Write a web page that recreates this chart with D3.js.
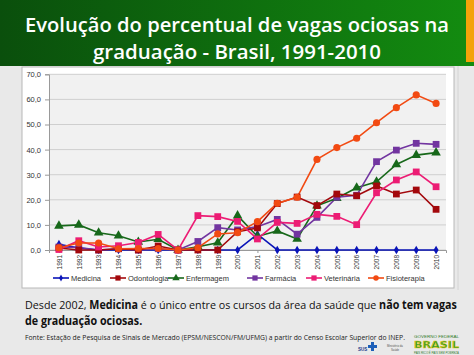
<!DOCTYPE html>
<html><head><meta charset="utf-8">
<script src="https://cdn.jsdelivr.net/npm/d3@7"></script>
<style>body{margin:0;background:#e9e9e9;}svg{display:block;}</style>
</head><body>
<svg id="c" width="474" height="355"></svg>
<script>
const years = ["1991","1992","1993","1994","1995","1996","1997","1998","1999","2000","2001","2002","2003","2004","2005","2006","2007","2008","2009","2010"];
const yTicks = [0,10,20,30,40,50,60,70];
const medicina     = [2.3,0.8,0,0,0,0,0,0,0,0,6.3,0,0,0,0,0,0,0,0,0];
const odontologia  = [0.8,0,0,0.5,0,1.6,0,0,0,7.3,8.8,18.5,21.1,17.7,22.3,21.6,25.5,22.3,23.9,16.2];
const enfermagem   = [9.6,10.0,6.9,5.7,3.2,4.3,0,1.3,2.9,13.7,5.4,7.6,4.4,17.6,20.6,24.8,27.2,34.1,37.8,38.8];
const farmacia     = [1.2,1.0,0,0.5,0,0.5,0,3.4,8.9,8.0,9.3,12.2,6.3,13.0,21.0,21.8,35.2,39.8,42.5,42.1];
const veterinaria  = [0.2,3.7,1.2,1.7,3.0,6.2,0,13.7,13.3,11.4,4.4,11.0,10.6,14.2,13.4,10.1,22.8,27.9,31.1,25.2];
const fisioterapia = [0.9,2.8,2.8,0.5,0.6,0.6,0,0.9,6.4,6.9,11.3,18.6,21.0,36.1,40.8,44.5,50.7,56.7,61.8,58.4];
const seriesNames = ["Medicina","Odontologia","Enfermagem","Farmácia","Veterinária","Fisioterapia"];
const seriesValues = [medicina,odontologia,enfermagem,farmacia,veterinaria,fisioterapia];
const colors = ["#0a14b8","#a3080c","#17681a","#7235a0","#ec1c74","#f24a12"];
const shapes = ["diamond","square","triangle","square","square","circle"];

const svg = d3.select("#c");
const defs = svg.append("defs");
const g1 = defs.append("linearGradient").attr("id","tg").attr("x1","0").attr("x2","1");
g1.append("stop").attr("offset","0").attr("stop-color","#0a4f0c");
g1.append("stop").attr("offset","1").attr("stop-color","#138c10");
svg.append("rect").attr("x",0).attr("y",0).attr("width",474).attr("height",66).attr("fill","url(#tg)");
svg.append("rect").attr("x",466).attr("y",0).attr("width",8).attr("height",62).attr("fill","#f3a30a");
svg.append("text").attr("x",237).attr("y",32).attr("text-anchor","middle").attr("fill","#fff")
  .attr("font-family","Open Sans").attr("font-weight",600).attr("font-size",20.5)
  .attr("textLength",424).attr("lengthAdjust","spacingAndGlyphs").text("Evolução do percentual de vagas ociosas na");
svg.append("text").attr("x",237).attr("y",59).attr("text-anchor","middle").attr("fill","#fff")
  .attr("font-family","Open Sans").attr("font-weight",600).attr("font-size",20.5)
  .attr("textLength",288).attr("lengthAdjust","spacingAndGlyphs").text("graduação - Brasil, 1991-2010");

svg.append("line").attr("x1",458).attr("x2",458).attr("y1",66).attr("y2",290).attr("stroke","#d4d4d4");
svg.append("rect").attr("x",22).attr("y",67).attr("width",432).attr("height",221).attr("fill","#fff").attr("stroke","#b8b8b8");

const pLeft=49, pRight=446, pTop=74.3, pBottom=250;
const x = d3.scalePoint().domain(years).range([pLeft,pRight]).padding(0.5);
const y = d3.scaleLinear().domain([0,70]).range([pBottom,pTop]);

svg.append("rect").attr("x",pLeft).attr("y",pTop).attr("width",pRight-pLeft).attr("height",pBottom-pTop).attr("fill","#f1f1f1");
svg.append("g").selectAll("line").data(yTicks).join("line")
  .attr("x1",pLeft).attr("x2",pRight).attr("y1",d=>y(d)).attr("y2",d=>y(d))
  .attr("stroke","#cfcfcf").attr("stroke-width",1);

const ya = svg.append("g").attr("transform",`translate(${pLeft},0)`)
  .call(d3.axisLeft(y).tickValues(yTicks).tickSize(4).tickFormat(d=>d.toFixed(1).replace(".",",")));
ya.select(".domain").attr("stroke","#999");
ya.selectAll(".tick line").attr("stroke","#999");
ya.selectAll("text").attr("font-family","Liberation Sans").attr("font-size",7.5).attr("fill","#333").attr("dx",-1);

const xa = svg.append("g").attr("transform",`translate(0,${pBottom})`)
  .call(d3.axisBottom(x).tickSize(3));
xa.select(".domain").attr("stroke","#999");
xa.selectAll(".tick line").attr("stroke","#999");
xa.selectAll("text").attr("font-family","Liberation Sans").attr("font-size",6.5).attr("fill","#333")
  .attr("transform","rotate(-90)").attr("text-anchor","end").attr("x",-5).attr("y",0).attr("dy","0.35em");

const symType = {diamond:d3.symbolDiamond,square:d3.symbolSquare,triangle:d3.symbolTriangle,circle:d3.symbolCircle};
const symSize = {diamond:22,square:46,triangle:40,circle:40};
const line = d3.line().x((d,i)=>x(years[i])).y(d=>y(d));

const order=[0,2,3,1,4,5];
order.forEach(k=>{
  svg.append("path").datum(seriesValues[k]).attr("d",line).attr("fill","none")
    .attr("stroke",colors[k]).attr("stroke-width",1.6);
});
order.forEach(k=>{
  svg.append("g").selectAll("path").data(seriesValues[k]).join("path")
    .attr("transform",(d,i)=>`translate(${x(years[i])},${y(d)})`)
    .attr("d",d3.symbol().type(symType[shapes[k]]).size(symSize[shapes[k]]))
    .attr("fill",colors[k]);
});

const legX=[53,110,168,247,306,368];
const legY=278;
seriesNames.forEach((n,k)=>{
  const g=svg.append("g");
  g.append("line").attr("x1",legX[k]).attr("x2",legX[k]+16).attr("y1",legY).attr("y2",legY).attr("stroke",colors[k]).attr("stroke-width",1.6);
  g.append("path").attr("transform",`translate(${legX[k]+8},${legY})`)
    .attr("d",d3.symbol().type(symType[shapes[k]]).size(symSize[shapes[k]]*0.6)).attr("fill",colors[k]);
  g.append("text").attr("x",legX[k]+18).attr("y",legY).attr("dy","0.35em")
    .attr("font-family","Liberation Sans").attr("font-size",7.5).attr("fill","#333").text(n);
});

const note = svg.append("g").attr("transform","translate(25,0) scale(0.925,1)");
const t1=note.append("text").attr("x",0).attr("y",309).attr("font-family","Open Sans").attr("font-size",11.6).attr("fill","#111");
t1.append("tspan").text("Desde 2002, ");
t1.append("tspan").attr("font-weight","bold").text("Medicina");
t1.append("tspan").text(" é o único entre os cursos da área da saúde que ");
t1.append("tspan").attr("font-weight","bold").text("não tem vagas");
note.append("text").attr("x",0).attr("y",325).attr("font-family","Open Sans").attr("font-size",11.6).attr("font-weight","bold").attr("fill","#111")
  .text("de graduação ociosas.");
svg.append("text").attr("x",25).attr("y",340).attr("font-family","Open Sans").attr("font-size",6.3).attr("fill","#222")
  .attr("textLength",380).attr("lengthAdjust","spacingAndGlyphs")
  .text("Fonte: Estação de Pesquisa de Sinais de Mercado (EPSM/NESCON/FM/UFMG)  a partir do Censo Escolar Superior do INEP.");

svg.append("text").attr("x",358).attr("y",351).attr("font-family","Liberation Sans").attr("font-size",4.5).attr("font-weight","bold").attr("fill","#1a3a8a").text("SUS");
svg.append("path").attr("d","M368,345h3v-3h3v3h3v3h-3v3h-3v-3h-3z").attr("fill","#1d5fb8");
svg.append("text").attr("x",387).attr("y",347).attr("font-family","Liberation Sans").attr("font-size",2.8).attr("fill","#555").text("Ministério da");
svg.append("text").attr("x",391).attr("y",351).attr("font-family","Liberation Sans").attr("font-size",2.8).attr("fill","#555").text("Saúde");
svg.append("text").attr("x",414).attr("y",348).attr("font-family","DejaVu Sans").attr("font-weight","bold").attr("font-size",9.5)
  .attr("fill","#2f9e2a").attr("stroke","#e9c60a").attr("stroke-width",0.5)
  .attr("textLength",45).attr("lengthAdjust","spacingAndGlyphs").text("BRASIL");
svg.append("text").attr("x",414).attr("y",353.5).attr("font-family","Liberation Sans").attr("font-size",2.6).attr("fill","#2f7a2a")
  .attr("textLength",45).attr("lengthAdjust","spacingAndGlyphs").text("PAÍS RICO É PAÍS SEM POBREZA");
svg.append("text").attr("x",414).attr("y",338).attr("font-family","Liberation Sans").attr("font-size",2.6).attr("fill","#2f7a2a")
  .attr("textLength",45).attr("lengthAdjust","spacingAndGlyphs").text("GOVERNO FEDERAL");
</script>
</body></html>
